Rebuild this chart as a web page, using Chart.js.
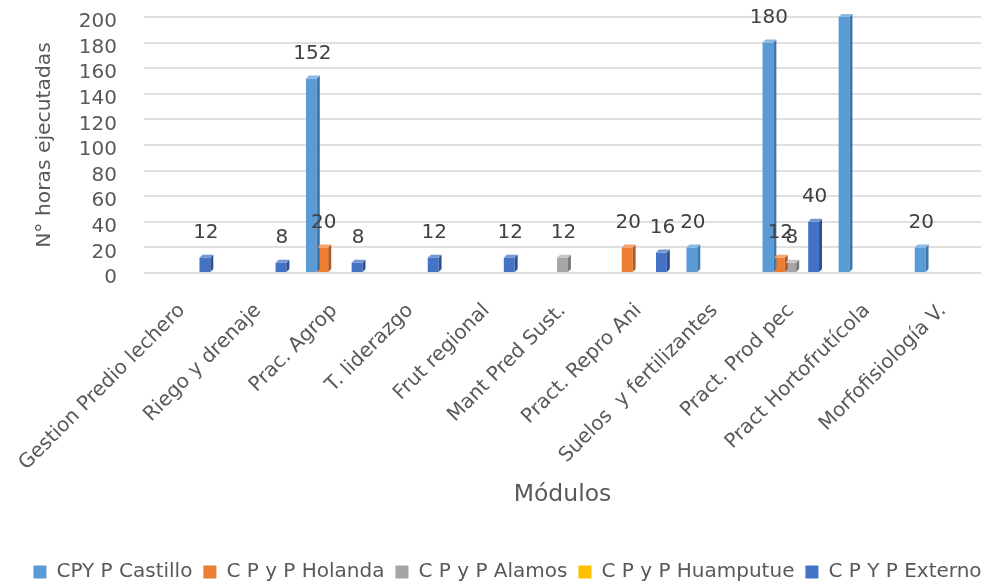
<!DOCTYPE html>
<html>
<head>
<meta charset="utf-8">
<script src="https://cdn.jsdelivr.net/npm/chart.js@4.4.1/dist/chart.umd.min.js"></script>
<style>
  html, body { margin: 0; padding: 0; background: #fff; }
  #wrap { width: 985px; height: 588px; position: relative; }
</style>
</head>
<body>
<div id="wrap"><canvas id="chart"></canvas></div>
<script>
// Categories (modules)
const modulos = ['Gestion Predio lechero', 'Riego y drenaje', 'Prac. Agrop', 'T. liderazgo', 'Frut regional',
    'Mant Pred Sust.', 'Pract. Repro Ani', 'Suelos  y fertilizantes', 'Pract. Prod pec', 'Pract Hortofrutícola', 'Morfofisiología V.'];

// Hours per centre
const castillo  = [null, null, 152, null, null, null, null, 20, 180, 200, 20];
const holanda   = [null, null, 20, null, null, null, 20, null, 12, null, null];
const alamos    = [null, null, null, null, null, 12, null, null, 8, null, null];
const huamputue = [null, null, null, null, null, null, null, null, null, null, null];
const externo   = [12, 8, 8, 12, 12, null, 16, null, 40, null, null];

const seriesNames = ['CPY P Castillo', 'C P y P Holanda', 'C P y P Alamos', 'C P y P Huamputue', 'C P Y P Externo'];
const yTicks = [0, 20, 40, 60, 80, 100, 120, 140, 160, 180, 200];

// Colours: front, side, top
const fronts = ['#5B9BD5', '#ED7D31', '#A5A5A5', '#FFC000', '#4472C4'];
const sides  = ['#3F77AA', '#B55A1E', '#7A7A7A', '#BF9000', '#2C5192'];
const tops   = ['#8AB9E4', '#F4A46C', '#C6C6C6', '#FFD452', '#7594D4'];

const FONT = 'DejaVu Sans';
const GREY = '#595959';
const DEPTH = 3;

// Fake 3D faces on each bar
const bar3d = {
    id: 'bar3d',
    afterDatasetsDraw(chart) {
        const ctx = chart.ctx;
        chart.data.datasets.forEach((ds, i) => {
            const meta = chart.getDatasetMeta(i);
            meta.data.forEach((bar, j) => {
                if (ds.data[j] == null) return;
                const w = bar.width;
                const l = bar.x - w / 2, r = bar.x + w / 2;
                const t = bar.y, b = bar.base;
                ctx.save();
                ctx.fillStyle = sides[i];
                ctx.beginPath();
                ctx.moveTo(r, t);
                ctx.lineTo(r + DEPTH, t - DEPTH);
                ctx.lineTo(r + DEPTH, b - DEPTH);
                ctx.lineTo(r, b);
                ctx.closePath();
                ctx.fill();
                ctx.fillStyle = tops[i];
                ctx.beginPath();
                ctx.moveTo(l, t);
                ctx.lineTo(l + DEPTH, t - DEPTH);
                ctx.lineTo(r + DEPTH, t - DEPTH);
                ctx.lineTo(r, t);
                ctx.closePath();
                ctx.fill();
                ctx.restore();
            });
        });
    }
};

// Value labels above bars
const valueLabels = {
    id: 'valueLabels',
    afterDraw(chart) {
        const ctx = chart.ctx;
        ctx.save();
        ctx.font = '20px "' + FONT + '"';
        ctx.fillStyle = '#404040';
        ctx.textAlign = 'center';
        ctx.textBaseline = 'middle';
        chart.data.datasets.forEach((ds, i) => {
            const meta = chart.getDatasetMeta(i);
            meta.data.forEach((bar, j) => {
                const v = ds.data[j];
                if (v == null) return;
                const y = bar.y - 25;
                if (y < 10) return;
                ctx.fillText(String(v), bar.x + 1, y);
            });
        });
        ctx.restore();
    }
};

// Nudge the legend row to the right, as in the original
const legendShift = {
    id: 'legendShift',
    afterLayout(chart) {
        chart.legend.left += 17;
        chart.legend.right += 17;
    }
};

const allSeries = [castillo, holanda, alamos, huamputue, externo];

new Chart(document.getElementById('chart'), {
    type: 'bar',
    data: {
        labels: modulos,
        datasets: allSeries.map((d, i) => ({
            label: seriesNames[i],
            data: d,
            backgroundColor: fronts[i],
            categoryPercentage: 0.75,
            barPercentage: 0.95,
            skipNull: false
        }))
    },
    options: {
        responsive: true,
        maintainAspectRatio: false,
        animation: false,
        layout: { padding: { top: 17, right: 4, left: 0, bottom: -4 } },
        plugins: {
            legend: {
                position: 'bottom',
                labels: {
                    font: { family: FONT, size: 20 },
                    color: GREY,
                    boxWidth: 13,
                    boxHeight: 13,
                    padding: 11
                }
            },
            tooltip: { enabled: false }
        },
        scales: {
            x: {
                grid: { display: false, drawTicks: false },
                border: { display: false },
                ticks: {
                    font: { family: FONT, size: 20 },
                    color: GREY,
                    maxRotation: 45,
                    minRotation: 45,
                    autoSkip: false,
                    padding: 26
                },
                title: {
                    display: true,
                    text: 'Módulos',
                    font: { family: FONT, size: 23.5 },
                    color: GREY,
                    padding: { top: 42, bottom: 42 }
                },
                afterFit(scale) {
                    scale.height = 278;
                    scale.paddingLeft = 0;
                    scale.paddingRight = 0;
                }
            },
            y: {
                min: 0,
                max: 200,
                afterBuildTicks(scale) { scale.ticks = yTicks.map(v => ({ value: v })); },
                grid: { color: '#E0E0E0', lineWidth: 2, drawTicks: true, tickLength: 22, tickColor: 'rgba(0,0,0,0)' },
                border: { display: false },
                ticks: {
                    font: { family: FONT, size: 20 },
                    color: GREY,
                    padding: 5,
                    labelOffset: 5,
                    autoSkip: false
                },
                title: {
                    display: true,
                    text: 'N° horas ejecutadas',
                    font: { family: FONT, size: 20.3 },
                    color: GREY,
                    padding: { top: 33, bottom: 33 }
                },
                afterFit(scale) { scale.width = 144; }
            }
        }
    },
    plugins: [bar3d, valueLabels, legendShift]
});
</script>
</body>
</html>
